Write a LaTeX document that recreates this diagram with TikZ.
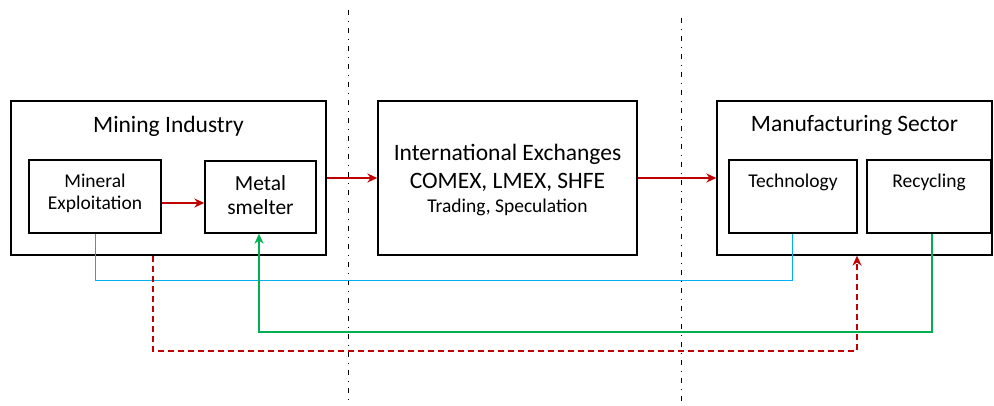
\documentclass[tikz,border=0pt]{standalone}
\usepackage{fontspec}
\setmainfont{Carlito}
\usetikzlibrary{positioning, arrows.meta}

\definecolor{flowred}{RGB}{192,0,0}
\definecolor{techblue}{RGB}{0,176,240}
\definecolor{recgreen}{RGB}{0,176,80}

\begin{document}
\begin{tikzpicture}[
    x=1pt, y=-1pt,
    outer-box/.style={draw, line width=1.3pt, rectangle, inner sep=0pt},
    inner-box/.style={draw, line width=1.3pt, rectangle, inner sep=0pt},
    big-txt/.style={font=\fontsize{23.5}{28}\selectfont, inner sep=0pt},
    small-txt/.style={font=\fontsize{19.5}{22}\selectfont, inner sep=0pt, align=center},
    flow-arr/.style={draw=flowred, line width=1.9pt, -{Stealth[length=10pt,width=9pt]}},
    tech-line/.style={draw=techblue, line width=1pt},
    rec-arr/.style={draw=recgreen, line width=1.7pt, -{Stealth[length=10pt,width=9pt]}},
    back-arr/.style={draw=flowred, line width=1.9pt, dash pattern=on 6pt off 4pt, -{Stealth[length=10pt,width=9pt]}},
    border-line/.style={draw, line width=1pt, dash pattern=on 5pt off 6pt on 1pt off 6pt}
  ]
  \useasboundingbox (0,0) rectangle (994,406);

  % outer boxes
  \node[outer-box, minimum width=315pt, minimum height=154pt] (mining) at (168.5,178) {};
  \node[outer-box, minimum width=259pt, minimum height=154pt] (exch) at (507.5,178) {};
  \node[outer-box, minimum width=275pt, minimum height=154pt] (manuf) at (854.5,178) {};

  \node[big-txt] (minlbl) at ([yshift=-26pt]mining.north) {Mining Industry};
  \node[big-txt] (manlbl) at ([yshift=-25pt]manuf.north) {Manufacturing Sector};
  \node[big-txt] (exchlbl) at ([yshift=-54pt]exch.north) {International Exchanges};
  \node[big-txt] (mktlbl) at ([yshift=-82pt]exch.north) {COMEX, LMEX, SHFE};
  \node[small-txt] (tradelbl) at ([yshift=-107pt]exch.north) {Trading, Speculation};

  % inner boxes
  \node[inner-box, minimum width=132pt, minimum height=73pt] (mineral) at (95,196.5) {};
  \node[inner-box, minimum width=111pt, minimum height=72pt] (smelter) at (260.5,197) {};
  \node[inner-box, minimum width=128pt, minimum height=73pt] (tech) at (793,196.5) {};
  \node[inner-box, minimum width=124pt, minimum height=73pt] (recyc) at (929,196.5) {};

  \node[small-txt] (minerallbl) at ([yshift=-34pt]mineral.north) {Mineral\\Exploitation};
  \node[small-txt, font=\fontsize{21.5}{24}\selectfont] (smelterlbl) at ([yshift=-35pt]smelter.north) {Metal\\smelter};
  \node[small-txt] (techlbl) at ([yshift=-23pt]tech.north) {Technology};
  \node[small-txt] (reclbl) at ([yshift=-23pt]recyc.north) {Recycling};

  % borders between sectors
  \coordinate (b1top) at (348,10);
  \coordinate (b1bot) at (348,406);
  \coordinate (b2top) at (681,18);
  \coordinate (b2bot) at (681,406);
  \draw[border-line] (b1top) -- (b1bot);
  \draw[border-line] (b2top) -- (b2bot);

  % main flow
  \draw[flow-arr] ([yshift=-6.5pt]mineral.east) -- ([yshift=-6.5pt]mineral.east -| smelter.west);
  \draw[flow-arr] (mining.east |- exch.west) -- (exch.west);
  \draw[flow-arr] (exch.east) -- (manuf.west);

  % feedback lines
  \draw[tech-line] ([xshift=-66pt]mineral.south east) -- ++(0,47) -| ([xshift=-1pt]tech.south);
  \draw[rec-arr] ([xshift=3pt]recyc.south) -- ++(0,98) -| ([xshift=-1.5pt]smelter.south);
  \draw[back-arr] ([xshift=-15.5pt]mining.south) -- ++(0,95) -| ([xshift=64pt]tech.south |- manuf.south);
\end{tikzpicture}
\end{document}
